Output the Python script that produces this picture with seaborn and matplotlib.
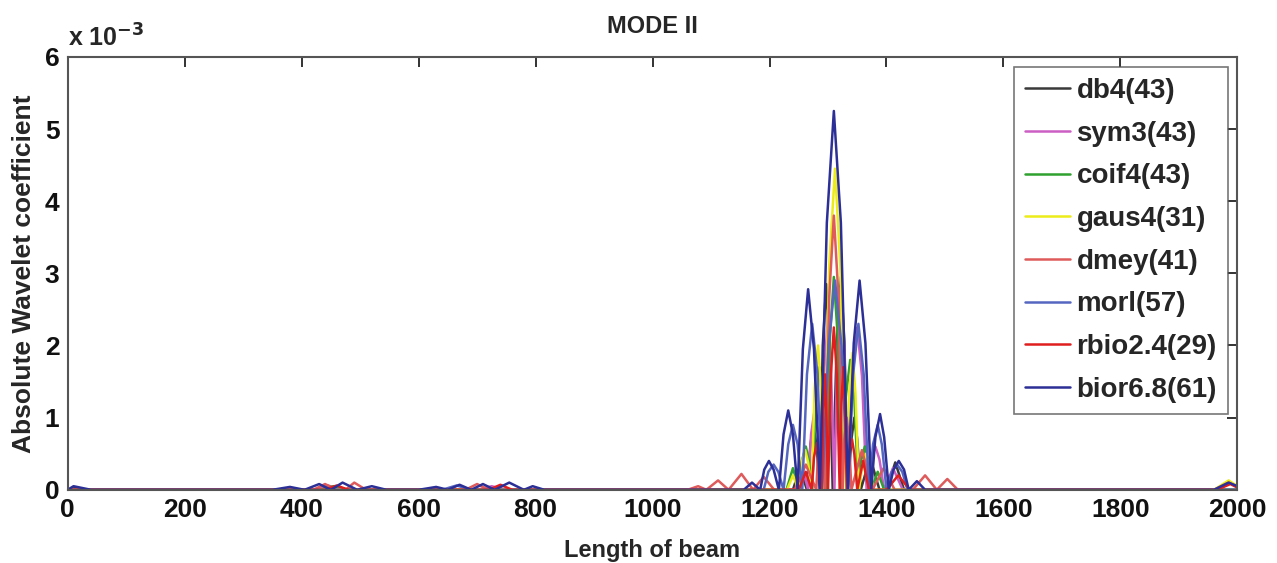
import pandas as pd
import numpy as np
import matplotlib
matplotlib.use("Agg")
import matplotlib.pyplot as plt
import seaborn as sns

# valores (coeficientes en unidades de 1e-3)
nombres = ["db4(43)", "sym3(43)", "coif4(43)", "gaus4(31)",
           "dmey(41)", "morl(57)", "rbio2.4(29)", "bior6.8(61)"]
colores = ["#3a3a3a", "#cc5fc4", "#2ea12e", "#ecec1a",
           "#df5a5a", "#5566c0", "#e01e1e", "#2c2f96"]

db4_x = [0, 15, 30, 1240, 1252, 1264, 1270, 1275, 1280, 1286, 1291, 1297, 1302, 1308, 1315, 1322, 1328, 1334,
         1340, 1345, 1350, 1356, 1372, 1388, 1400, 1415, 1430, 2000]
db4_y = [0, 0.03, 0, 0, 0.3, 0, 0.63, 0.9, 0.63, 0, 2.0, 2.85, 2.0, 0, 2.05, 2.95, 2.05, 0,
         0.7, 1.0, 0.7, 0, 0.45, 0, 0, 0.38, 0, 0]

sym3_x = [0, 420, 445, 470, 700, 725, 750, 1244, 1255, 1266, 1271, 1277, 1283, 1289, 1294, 1300, 1305, 1311,
          1316, 1322, 1328, 1334, 1342, 1350, 1358, 1366, 1373, 1381, 1388, 1396, 1411, 1428, 2000]
sym3_y = [0, 0, 0.06, 0, 0, 0.05, 0, 0, 0.35, 0, 0.77, 1.1, 0.77, 0, 1.7, 2.4, 1.7, 0,
          1.95, 2.8, 1.95, 0, 1.58, 2.25, 1.58, 0, 0.42, 0.6, 0.42, 0, 0.3, 0, 0]

coif4_x = [0, 430, 455, 480, 1229, 1240, 1251, 1256, 1262, 1267, 1273, 1279, 1285, 1291, 1297, 1303, 1310, 1317,
           1323, 1330, 1338, 1345, 1352, 1357, 1363, 1368, 1374, 1385, 1396, 2000]
coif4_y = [0, 0, 0.05, 0, 0, 0.3, 0, 0.42, 0.6, 0.42, 0, 1.2, 1.7, 1.2, 0, 2.07, 2.95, 2.07,
           0, 1.26, 1.8, 1.26, 0, 0.42, 0.6, 0.42, 0, 0.25, 0, 0]

gaus4_x = [0, 1230, 1240, 1250, 1255, 1261, 1266, 1272, 1277, 1283, 1288, 1293, 1302, 1312, 1321, 1331,
           1336, 1342, 1347, 1353, 1359, 1365, 1371, 1377, 1960, 1985, 2000]
gaus4_y = [0, 0, 0.2, 0, 0.38, 0.55, 0.38, 0, 1.4, 2.0, 1.4, 0, 3.1, 4.45, 3.1, 0,
           1.33, 1.9, 1.33, 0, 0.35, 0.5, 0.35, 0, 0, 0.13, 0.05]

dmey_x = [0, 420, 440, 460, 475, 490, 510, 680, 700, 720, 1060, 1078, 1092, 1112, 1130, 1152, 1172, 1190, 1208,
          1244, 1262, 1280, 1284, 1288, 1291, 1295, 1302, 1310, 1318, 1325, 1328, 1332, 1336, 1340,
          1358, 1376, 1395, 1414, 1445, 1466, 1486, 1504, 1522, 1960, 1985, 2000]
dmey_y = [0, 0, 0.08, 0, 0, 0.1, 0, 0, 0.08, 0, 0, 0.05, 0, 0.13, 0, 0.22, 0, 0.18, 0,
          0, 0.35, 0, 0.7, 1.0, 0.7, 0, 2.66, 3.8, 2.66, 0, 0.7, 1.0, 0.7, 0,
          0.55, 0, 0.3, 0, 0, 0.2, 0, 0.15, 0, 0, 0.1, 0.04]

morl_x = [0, 640, 665, 690, 1190, 1198, 1207, 1215, 1224, 1232, 1240, 1248, 1256, 1264, 1273, 1282, 1290,
          1301, 1312, 1323, 1334, 1343, 1352, 1361, 1370, 1377, 1385, 1392, 1400, 1409, 1418, 1427, 1436, 2000]
morl_y = [0, 0, 0.06, 0, 0, 0.25, 0.35, 0.25, 0, 0.63, 0.9, 0.63, 0, 1.6, 2.3, 1.6, 0,
          2.0, 2.9, 2.0, 0, 1.6, 2.3, 1.6, 0, 0.63, 0.9, 0.63, 0, 0.25, 0.35, 0.25, 0, 0]

rbio_x = [0, 440, 460, 480, 720, 740, 760, 1250, 1262, 1272, 1276, 1281, 1285, 1289, 1292, 1295, 1297, 1300,
          1305, 1310, 1315, 1320, 1323, 1326, 1329, 1332, 1336, 1341, 1345, 1350, 1360, 1370,
          1400, 1420, 1440, 1965, 1988, 2000]
rbio_y = [0, 0, 0.06, 0, 0, 0.07, 0, 0, 0.25, 0, 0.45, 0.65, 0.45, 0, 1.1, 1.6, 1.1, 0,
          1.6, 2.25, 1.6, 0, 1.2, 1.7, 1.2, 0, 0.5, 0.7, 0.5, 0, 0.4, 0,
          0, 0.2, 0, 0, 0.08, 0.03]

bior_x = [0, 10, 40, 350, 380, 405, 430, 450, 470, 495, 520, 545, 600, 630, 650, 670, 690, 710, 730, 755, 780, 795, 815,
          1156, 1170, 1184, 1191, 1199, 1207, 1216, 1224, 1232, 1240, 1248, 1257, 1266, 1276, 1286,
          1298, 1310, 1322, 1334, 1344, 1354, 1364, 1374, 1381, 1389, 1396, 1404, 1412, 1421, 1430, 1438,
          1452, 1466, 1960, 1985, 2000]
bior_y = [0, 0.05, 0, 0, 0.04, 0, 0.08, 0, 0.1, 0, 0.05, 0, 0, 0.04, 0, 0.07, 0, 0.08, 0, 0.1, 0, 0.05, 0,
          0, 0.1, 0, 0.28, 0.4, 0.28, 0, 0.77, 1.1, 0.77, 0, 1.95, 2.78, 1.95, 0,
          3.7, 5.25, 3.7, 0, 2.03, 2.9, 2.03, 0, 0.73, 1.05, 0.73, 0, 0.28, 0.4, 0.28, 0,
          0.12, 0, 0, 0.1, 0.05]

series_x = [db4_x, sym3_x, coif4_x, gaus4_x, dmey_x, morl_x, rbio_x, bior_x]
series_y = [db4_y, sym3_y, coif4_y, gaus4_y, dmey_y, morl_y, rbio_y, bior_y]

# dataframe en formato largo
filas = []
for nombre, xs, ys in zip(nombres, series_x, series_y):
    for x, y in zip(xs, ys):
        filas.append({"Wavelet": nombre, "x": x, "y": y})
df = pd.DataFrame(filas)

sns.set_style("white")
plt.rcParams['font.family'] = ['Liberation Sans', 'DejaVu Sans']
plt.rcParams['font.weight'] = 'bold'

fig = plt.figure(figsize=(12.77, 5.63), dpi=100)
ax = fig.add_axes([0.053, 0.130, 0.916, 0.769])

sns.lineplot(data=df, x="x", y="y", hue="Wavelet", hue_order=nombres,
             palette=dict(zip(nombres, colores)), estimator=None, sort=False,
             units="Wavelet", linewidth=1.8, ax=ax)

ax.set_xlim(0, 2000)
ax.set_ylim(0, 6)
ax.set_xticks(range(0, 2001, 200))
ax.set_yticks(range(0, 7))
ax.tick_params(direction="in", top=True, right=True, length=7, width=1.2,
               labelsize=19, colors="#111111", pad=6)
for lab in ax.get_xticklabels() + ax.get_yticklabels():
    lab.set_fontweight("bold")
for sp in ax.spines.values():
    sp.set_linewidth(1.5)
    sp.set_color("#555555")

ax.set_xlabel("Length of beam", fontsize=17, fontweight="bold", labelpad=12)
ax.set_ylabel("Absolute Wavelet coefficient", fontsize=19, fontweight="bold", labelpad=6)
ax.set_title("MODE II", fontsize=17, fontweight="bold", pad=17)
ax.text(0.0, 1.012, r"x 10$^{\mathbf{-3}}$", transform=ax.transAxes,
        fontsize=18, fontweight="bold", ha="left", va="bottom")

leg = ax.legend(loc="upper right", bbox_to_anchor=(0.992, 0.977), borderaxespad=0,
                fontsize=20, frameon=True, fancybox=False, handlelength=1.6,
                labelspacing=0.6, borderpad=0.4, handletextpad=0.25)
leg.get_frame().set_edgecolor("#555555")
leg.get_frame().set_linewidth(1.2)
for t in leg.get_texts():
    t.set_fontweight("bold")

fig.savefig("out.png", dpi=100)
